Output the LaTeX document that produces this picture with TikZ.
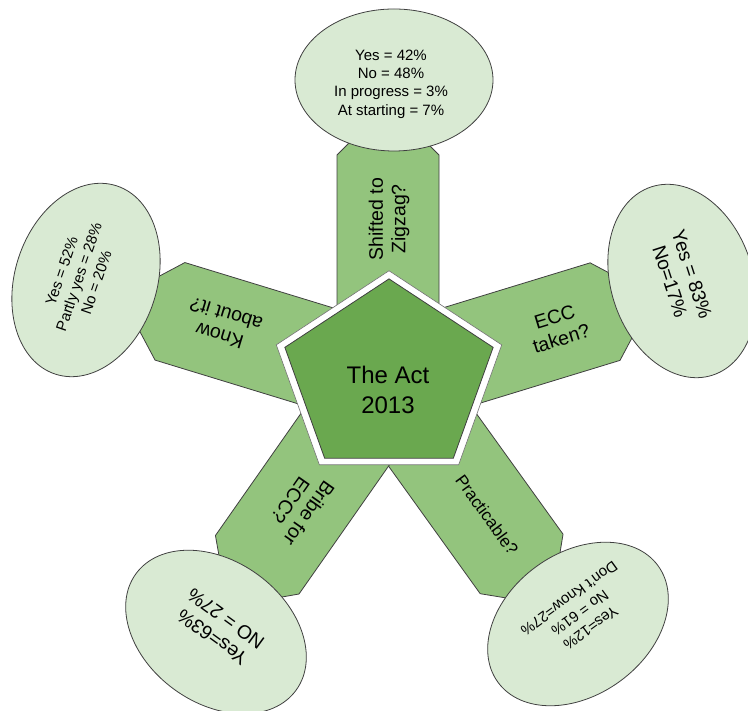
\documentclass[tikz,border=0pt]{standalone}
\usepackage{fontspec}
\setmainfont{Liberation Sans}
\usetikzlibrary{shapes.geometric}

\definecolor{hubgreen}{HTML}{6AA84F}
\definecolor{armgreen}{HTML}{93C47D}
\definecolor{bubblegreen}{HTML}{D9EAD3}

\newcommand{\fsz}[2]{\fontsize{#1}{#2}\selectfont}

\tikzset{
  arm/.style={fill=armgreen, draw=black!75, line width=0.8pt, line join=miter},
  bubble/.style={ellipse, fill=bubblegreen, draw=black!75, line width=0.8pt,
    minimum width=198pt, minimum height=142pt, inner sep=0pt},
  smalltext/.style={align=center, inner sep=0pt, font=\fsz{15}{18.3}},
  largetext/.style={align=center, inner sep=0pt, font=\fsz{19.3}{23}},
  armtext/.style={align=center, inner sep=0pt, font=\fsz{19.5}{22.5}},
  hubtext/.style={align=center, inner sep=0pt, font=\fsz{24}{30}},
  hubring/.style={fill=white, draw=black!55, line width=0.6pt, line join=miter},
  hubcore/.style={fill=hubgreen, draw=black!75, line width=0.8pt, line join=miter},
}

\begin{document}
\begin{tikzpicture}[x=1pt,y=1pt]
\useasboundingbox (0,0) rectangle (748,711);
\clip (0,0) rectangle (748,711);

\coordinate (hub) at (388,333);

% the five arms, each a bar with chamfered outer end
\foreach \a/\len in {90/223, 17/227, -54.3/229, -125/228, 163/228} {
  \begin{scope}[shift={(hub)}, rotate=\a]
    \draw[arm] (20,-51) -- (\len,-51) -- ++(30,30) -- ++(0,42) -- ++(-30,30) -- (20,51) -- cycle;
  \end{scope}
}

% answer bubbles at the end of each arm
\node[bubble]             (ansZig)   at (394,631) {};
\node[bubble, rotate=-72] (ansEcc)   at (682,430) {};
\node[bubble, rotate=-144](ansPrac)  at (578,87)  {};
\node[bubble, rotate=144] (ansBribe) at (216,79)  {};
\node[bubble, rotate=72]  (ansKnow)  at (86,431)  {};

\node[smalltext] (txtZig) at (391,627)
  {Yes = 42\%\\No = 48\%\\In progress = 3\%\\At starting = 7\%};
\node[largetext, rotate=-72] (txtEcc) at (681,433)
  {Yes = 83\%\\No=17\%};
\node[smalltext, rotate=-144] (txtPrac) at (580,98)
  {Yes=12\%\\No = 61\%\\Don't Know=27\%};
\node[largetext, rotate=144] (txtBribe) at (219,83)
  {Yes=63\%\\NO = 27\%};
\node[smalltext, rotate=71] (txtKnow) at (79,434)
  {Yes = 52\%\\Partly yes = 28\%\\No = 20\%};

% questions written along the arms
\node[armtext, rotate=90]   (qZig)   at (389,492) {Shifted to\\Zigzag?};
\node[armtext, rotate=17]   (qEcc)   at (558,383) {ECC\\taken?};
\node[armtext, rotate=-54, font=\fsz{17}{20}] (qPrac) at (487,196) {Practicable?};
\node[armtext, rotate=-125] (qBribe) at (300,204) {Bribe for\\ECC?};
\node[armtext, rotate=163]  (qKnow)  at (223,386) {Know\\about it?};

% central pentagon with white rim
\begin{scope}[shift={(389,333)}, yscale=0.905]
  \draw[hubring] (90:118.5) -- (18:118.5) -- (-54:118.5) -- (-126:118.5) -- (162:118.5) -- cycle;
  \draw[hubcore] (90:109.5) -- (18:109.5) -- (-54:109.5) -- (-126:109.5) -- (162:109.5) -- cycle;
\end{scope}
\node[hubtext] (act) at (388,321) {The Act\\2013};

\end{tikzpicture}
\end{document}
